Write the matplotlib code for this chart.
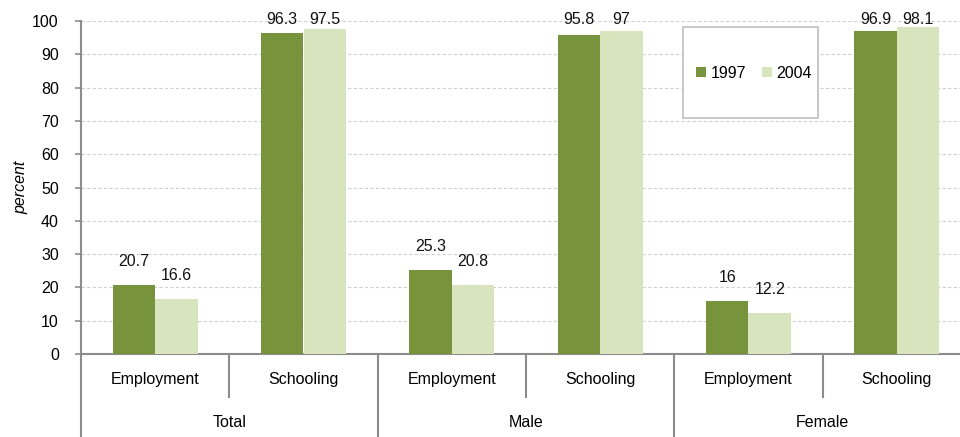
import numpy as np
import matplotlib
matplotlib.use("Agg")
from matplotlib import pyplot as plt
from matplotlib.patches import Rectangle
import matplotlib.transforms as mtransforms

plt.rcParams['font.family'] = ['Liberation Sans', 'DejaVu Sans']

groups = ['Total', 'Male', 'Female']
activities = ['Employment', 'Schooling']
years = ['1997', '2004']
values_1997 = [20.7, 96.3, 25.3, 95.8, 16, 96.9]
values_2004 = [16.6, 97.5, 20.8, 97, 12.2, 98.1]
yticks = list(range(0, 101, 10))

dark_green = '#77933c'
light_green = '#d7e4bd'
axis_grey = '#8c8c8c'
fs = 11.5

fig = plt.figure(figsize=(9.6, 4.37), dpi=100)
ax = fig.add_axes([81 / 960, 83 / 437, 890 / 960, 333 / 437])

x = np.arange(len(values_1997)) + 0.5
w = 0.287
b1 = ax.bar(x - w / 2, values_1997, w, color=dark_green, label=years[0], zorder=3)
b2 = ax.bar(x + w / 2, values_2004, w, color=light_green, label=years[1], zorder=3)

# value labels, kept inside the plotting area for the tall bars
for xs, vals in [(x - w / 2, values_1997), (x + w / 2, values_2004)]:
    for xi, v in zip(xs, vals):
        ax.text(xi, min(v + 4.8, 98.2), f'{v:g}', ha='center', va='bottom',
                fontsize=fs, color='#111111', zorder=4)

ax.set_xlim(0, 6)
ax.set_ylim(0, 100)
ax.set_yticks(yticks)
ax.yaxis.grid(True, linestyle=(0, (3, 2)), color='#d0d0d0', linewidth=0.8, zorder=0)
ax.set_xticks([])
ax.tick_params(axis='y', direction='out', length=4, width=1.2, color=axis_grey,
               pad=12, labelsize=fs)
for s in ['top', 'right']:
    ax.spines[s].set_visible(False)
for s in ['left', 'bottom']:
    ax.spines[s].set_color(axis_grey)
    ax.spines[s].set_linewidth(1.5)
ax.set_ylabel('percent', fontsize=11.5, style='italic', labelpad=3)

# two-level category axis
trans = mtransforms.blended_transform_factory(ax.transData, ax.transAxes)
for i in range(len(values_1997)):
    ax.text(x[i], -0.078, activities[i % 2], transform=trans, ha='center',
            va='center', fontsize=fs)
for g, name in enumerate(groups):
    ax.text(2 * g + 1, -0.207, name, transform=trans, ha='center', va='center',
            fontsize=fs)
for xb in range(7):
    y_end = -0.129 if xb % 2 else -0.3
    ax.plot([xb, xb], [0, y_end], transform=trans, color=axis_grey, lw=1.5,
            clip_on=False)

# legend in a framed box
fig.patches.append(Rectangle((683 / 960, 1 - 118 / 437), 135 / 960, 91 / 437,
                             transform=fig.transFigure, facecolor='white',
                             edgecolor='#bfbfbf', linewidth=1.2, zorder=5))
leg = fig.legend(handles=[b1, b2], loc='center', ncol=2, frameon=False,
                 bbox_to_anchor=(754 / 960, 1 - 73 / 437), fontsize=fs,
                 handlelength=0.6, handleheight=0.6, handletextpad=0.3,
                 columnspacing=1.0)
leg.set_zorder(6)

fig.savefig('out.png', dpi=100)
